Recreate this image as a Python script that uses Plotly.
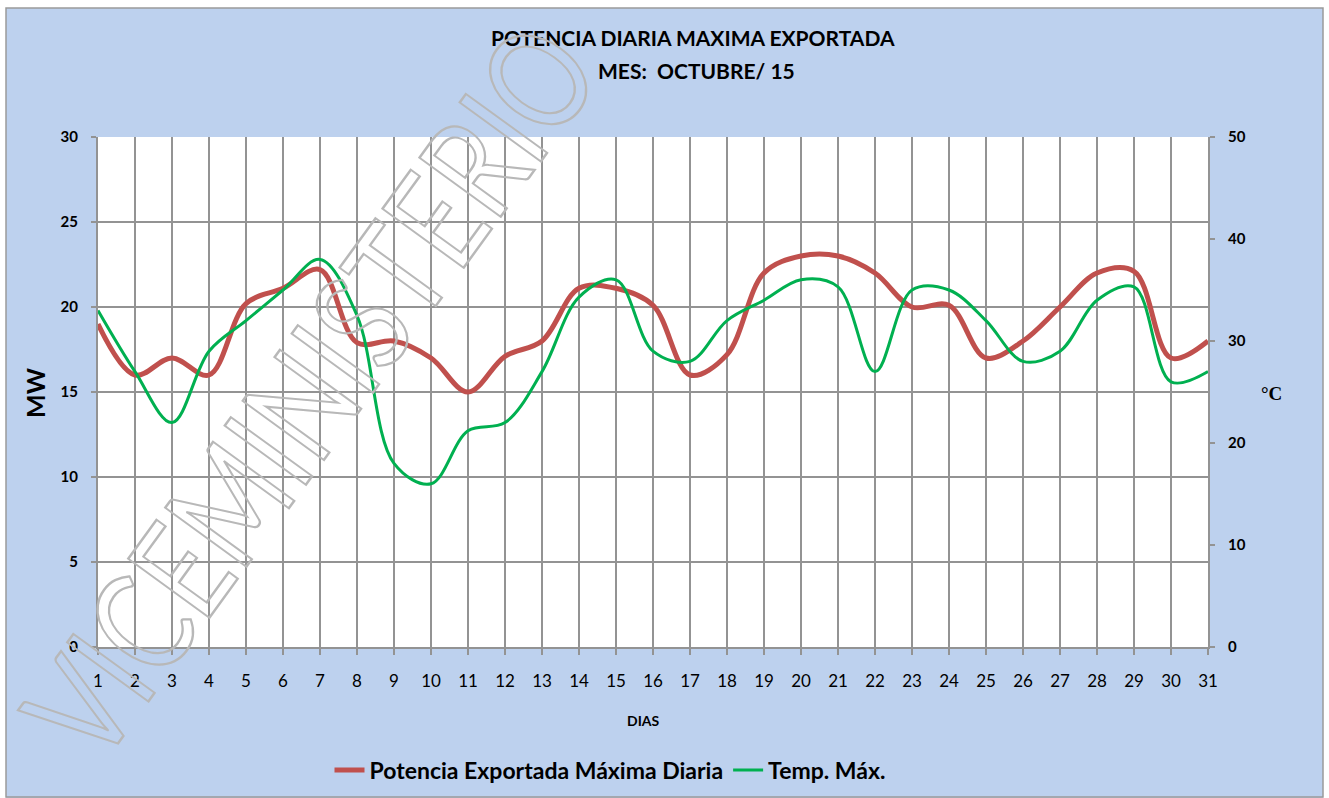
import plotly.graph_objects as go

# ---------------- data ----------------
dias = list(range(1, 32))
potencia_mw = [19, 16, 17, 16, 20.2, 21.1, 22.2, 17.9, 18, 17, 15, 17.1, 18, 21.1, 21.1,
               20.1, 16, 17.2, 22, 23, 23, 22, 20, 20.1, 17, 18, 20, 22, 22.1, 17, 18]
temp_max_c = [33, 27, 22, 29, 32, 35, 38, 32.5, 18, 16, 21.2, 22, 27, 34.3, 36,
              29, 28, 32, 34, 36, 35.3, 27, 35, 35, 32, 28, 29, 34, 35.3, 26, 27]
y_left_ticks = [0, 5, 10, 15, 20, 25, 30]
y_right_ticks = [0, 10, 20, 30, 40, 50]

W, H = 1329, 798
L, R, T, B = 98, 121, 137, 151
PW, PH = W - L - R, H - T - B


def xp(px):
    return (px - L) / PW


def yp(py):
    return (H - B - py) / PH


FONT = "Lato"
BG = "#BDD1EE"
GRID = "#939393"

fig = go.Figure()
fig.add_trace(go.Scatter(
    x=dias, y=potencia_mw, name="Potencia Exportada Máxima Diaria",
    mode="lines", line=dict(color="#C0504D", width=5, shape="spline", smoothing=1.0),
    yaxis="y"))
fig.add_trace(go.Scatter(
    x=dias, y=temp_max_c, name="Temp. Máx.",
    mode="lines", line=dict(color="#00B050", width=3, shape="spline", smoothing=1.0),
    yaxis="y2"))

fig.update_layout(
    width=W, height=H,
    margin=dict(l=L, r=R, t=T, b=B, autoexpand=False),
    paper_bgcolor=BG, plot_bgcolor="white",
    font=dict(family=FONT, color="black"),
    showlegend=True,
    legend=dict(orientation="h", x=xp(610), xanchor="center", y=yp(770), yanchor="middle",
                bgcolor="rgba(0,0,0,0)", font=dict(family=FONT, size=23, weight="bold"),
                itemwidth=30, tracegroupgap=0),
    xaxis=dict(range=[1, 31], tickmode="array", tickvals=dias, ticktext=[str(d) for d in dias],
               showgrid=True, gridcolor=GRID, gridwidth=1.5,
               showline=True, linecolor=GRID, linewidth=2,
               ticks="outside", ticklen=6, tickcolor=GRID, tickwidth=1.5,
               tickfont=dict(family=FONT, size=17), ticklabelstandoff=12,
               zeroline=False, fixedrange=True),
    yaxis=dict(range=[0, 30], tickmode="array", tickvals=y_left_ticks,
               showgrid=True, gridcolor=GRID, gridwidth=1.5,
               showline=True, linecolor=GRID, linewidth=2,
               ticks="outside", ticklen=5, tickcolor=GRID, tickwidth=1.5,
               tickfont=dict(family=FONT, size=15, weight="bold"), ticklabelstandoff=10,
               zeroline=False, fixedrange=True),
    yaxis2=dict(range=[0, 50], tickmode="array", tickvals=y_right_ticks,
                overlaying="y", side="right", showgrid=False,
                showline=True, linecolor=GRID, linewidth=2,
                ticks="outside", ticklen=5, tickcolor=GRID, tickwidth=1.5,
                tickfont=dict(family=FONT, size=15, weight="bold"), ticklabelstandoff=10,
                zeroline=False, fixedrange=True),
)

ann = [
    dict(text="POTENCIA DIARIA MAXIMA EXPORTADA", x=xp(693), y=yp(37),
         font=dict(family=FONT, size=21, weight="bold")),
    dict(text="MES:  OCTUBRE/ 15", x=xp(696), y=yp(70),
         font=dict(family=FONT, size=21, weight="bold")),
    dict(text="MW", x=xp(35), y=yp(393), textangle=-90,
         font=dict(family=FONT, size=25, weight="bold")),
    dict(text="°C", x=xp(1271), y=yp(393),
         font=dict(family="Liberation Serif", size=19, weight="bold")),
    dict(text="DIAS", x=xp(643), y=yp(720),
         font=dict(family=FONT, size=14, weight="bold")),
    dict(text="VICEMINISTERIO", x=xp(308), y=yp(390), textangle=-54,
         font=dict(family=FONT, size=140, color="rgba(180,180,180,0.35)")),
]
for a in ann:
    a.update(xref="paper", yref="paper", showarrow=False, xanchor="center", yanchor="middle")
fig.update_layout(annotations=ann)

# white frame around the chart area, and its grey border
shapes = [
    dict(type="rect", x0=xp(0), x1=xp(W), y0=yp(0), y1=yp(8)),
    dict(type="rect", x0=xp(0), x1=xp(6), y0=yp(0), y1=yp(H)),
    dict(type="rect", x0=xp(1323), x1=xp(W), y0=yp(0), y1=yp(H)),
]
shp = []
for s in shapes:
    s.update(xref="paper", yref="paper", fillcolor="white", line=dict(width=0), layer="above")
    shp.append(s)
shp.append(dict(type="rect", xref="paper", yref="paper", x0=xp(6), x1=xp(1323), y0=yp(8), y1=yp(797),
                line=dict(color="#9a9a9a", width=1.5), fillcolor="rgba(0,0,0,0)", layer="above"))
fig.update_layout(shapes=shp)

post = """
document.body.style.margin = '0';
var gd = document.getElementById('{plot_id}');
gd.querySelectorAll('text.annotation-text').forEach(function(t){
  if (t.textContent === 'VICEMINISTERIO') {
    t.style.fill = 'none';
    t.style.stroke = '#b8b8b8';
    t.style.strokeWidth = '2.2px';
    t.style.vectorEffect = 'non-scaling-stroke';
    t.style.transformBox = 'fill-box';
    t.style.transformOrigin = 'center';
    t.style.transform = 'scale(0.78, 1)';
  }
});
"""

fig.write_html("out.html", post_script=post, config={"displayModeBar": False})
